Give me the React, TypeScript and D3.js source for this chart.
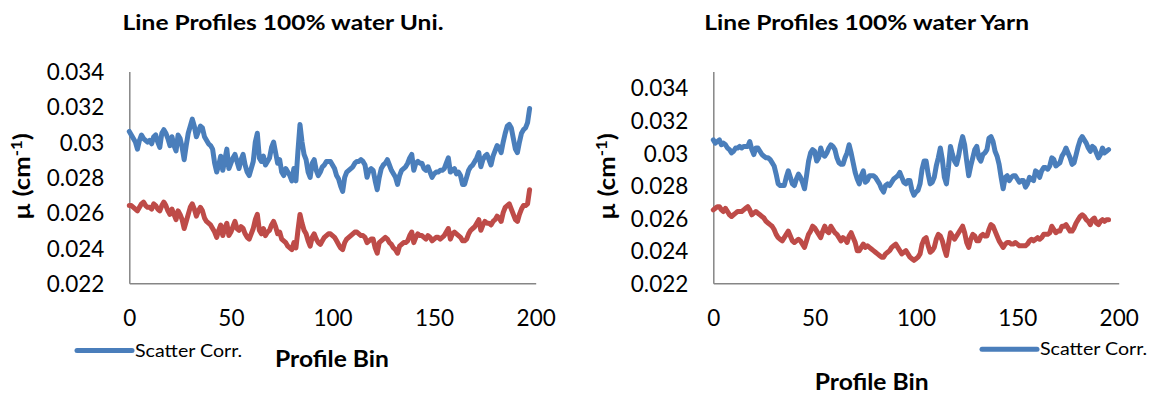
import * as d3 from 'd3'
import { useEffect, useRef } from 'react'

// profile bins are the array index (0, 1, 2, ...)
const uniScatter = [
  0.0306, 0.0304, 0.0302, 0.03, 0.0296, 0.0301, 0.0304, 0.0302, 0.0301, 0.03,
  0.0301, 0.0299, 0.0303, 0.0304, 0.03, 0.0297, 0.0305, 0.0307, 0.0305, 0.0302,
  0.0298, 0.0303, 0.0298, 0.0295, 0.0304, 0.0302, 0.0297, 0.029, 0.0298, 0.0305,
  0.0309, 0.0313, 0.0309, 0.0303, 0.0306, 0.0309, 0.0308, 0.0303, 0.0301, 0.0299,
  0.0298, 0.0296, 0.0288, 0.0283, 0.0287, 0.0292, 0.0284, 0.029, 0.0296, 0.0285,
  0.0288, 0.0291, 0.0293, 0.0289, 0.0285, 0.029, 0.0293, 0.0287, 0.0283, 0.0281,
  0.0285, 0.0289, 0.03, 0.0305, 0.0291, 0.0289, 0.0292, 0.0287, 0.0289, 0.0291,
  0.0297, 0.03, 0.0294, 0.0288, 0.029, 0.0283, 0.0281, 0.0285, 0.0283, 0.0281,
  0.0278, 0.0285, 0.0278, 0.0295, 0.031, 0.03, 0.0293, 0.029, 0.0283, 0.028,
  0.0288, 0.029, 0.0284, 0.0281, 0.0283, 0.0286, 0.0287, 0.0289, 0.0289, 0.0289,
  0.0287, 0.0285, 0.0281, 0.0279, 0.0275, 0.0272, 0.028, 0.0283, 0.0284, 0.0285,
  0.0286, 0.0288, 0.0289, 0.0289, 0.029, 0.0289, 0.0287, 0.028, 0.0284, 0.0285,
  0.0284, 0.0278, 0.0273, 0.028, 0.0285, 0.0287, 0.0288, 0.029, 0.0287, 0.0284,
  0.0282, 0.028, 0.0276, 0.0281, 0.0284, 0.0285, 0.0286, 0.0288, 0.0291, 0.0293,
  0.0284, 0.0288, 0.0289, 0.0288, 0.0288, 0.0285, 0.0284, 0.0286, 0.0283, 0.028,
  0.0282, 0.0283, 0.0283, 0.0284, 0.0284, 0.0285, 0.0288, 0.0291, 0.0283, 0.0284,
  0.0285, 0.0282, 0.0283, 0.0281, 0.0276, 0.0276, 0.028, 0.0284, 0.0286, 0.0287,
  0.0289, 0.0291, 0.0294, 0.0286, 0.029, 0.0292, 0.0293, 0.029, 0.0287, 0.0292,
  0.0295, 0.0298, 0.0297, 0.0294, 0.03, 0.0305, 0.0309, 0.031, 0.0308, 0.0302,
  0.0296, 0.0294, 0.03, 0.0305, 0.0307, 0.0308, 0.0311, 0.0319,
]

const uniOther = [
  0.0264, 0.0264, 0.0263, 0.0262, 0.0261, 0.0263, 0.0265, 0.0266, 0.0264, 0.0263,
  0.0263, 0.0262, 0.0265, 0.0264, 0.0262, 0.0261, 0.0264, 0.0266, 0.0264, 0.0261,
  0.0259, 0.0262, 0.0259, 0.0256, 0.0261, 0.0259, 0.0256, 0.0251, 0.0255, 0.0259,
  0.0263, 0.0265, 0.0262, 0.0258, 0.0261, 0.0263, 0.0261, 0.0257, 0.0255, 0.0254,
  0.0253, 0.0251, 0.0249, 0.0246, 0.025, 0.0253, 0.0247, 0.0251, 0.0254, 0.0247,
  0.0249, 0.0252, 0.0255, 0.0251, 0.025, 0.0252, 0.0251, 0.0248, 0.0246, 0.0245,
  0.0248, 0.0251, 0.0256, 0.0259, 0.025, 0.0248, 0.0251, 0.0247, 0.0249, 0.025,
  0.0253, 0.0255, 0.0252, 0.0248, 0.0249, 0.0245, 0.0244, 0.0243, 0.0241, 0.024,
  0.0239, 0.0243, 0.024, 0.025, 0.0259, 0.0254, 0.025, 0.0248, 0.0244, 0.0241,
  0.0246, 0.0248, 0.0245, 0.0243, 0.0242, 0.0244, 0.0246, 0.0247, 0.0248, 0.0248,
  0.0247, 0.0246, 0.0244, 0.0242, 0.024, 0.0239, 0.0243, 0.0245, 0.0246, 0.0247,
  0.0248, 0.0249, 0.0249, 0.0248, 0.0247, 0.0247, 0.0246, 0.0243, 0.0244, 0.0245,
  0.0245, 0.024, 0.0237, 0.0243, 0.0244, 0.0245, 0.0246, 0.0245, 0.0243, 0.0242,
  0.024, 0.0239, 0.0237, 0.0241, 0.0242, 0.0243, 0.0243, 0.0244, 0.0247, 0.0249,
  0.0243, 0.0246, 0.0248, 0.0247, 0.0247, 0.0246, 0.0245, 0.0247, 0.0246, 0.0244,
  0.0245, 0.0246, 0.0246, 0.0245, 0.0246, 0.0247, 0.0249, 0.0251, 0.0245, 0.0248,
  0.0249, 0.0248, 0.0247, 0.0246, 0.0244, 0.0244, 0.0245, 0.0248, 0.025, 0.0251,
  0.0252, 0.0254, 0.0256, 0.025, 0.0253, 0.0255, 0.0254, 0.0254, 0.0253, 0.0255,
  0.0256, 0.0258, 0.0257, 0.0255, 0.026, 0.0263, 0.0264, 0.0265, 0.0262, 0.0259,
  0.0256, 0.0255, 0.0259, 0.0262, 0.0264, 0.0264, 0.0265, 0.0273,
]

const yarnScatter = [
  0.0308, 0.0306, 0.0307, 0.0308, 0.0305, 0.0306, 0.0305, 0.0303, 0.0302, 0.03,
  0.0301, 0.0303, 0.0303, 0.0304, 0.0303, 0.0304, 0.0304, 0.0304, 0.0307, 0.0302,
  0.0299, 0.0303, 0.0303, 0.0301, 0.0299, 0.0298, 0.0297, 0.0297, 0.0296, 0.0294,
  0.0292, 0.0287, 0.0281, 0.028, 0.028, 0.028, 0.0285, 0.0289, 0.0285, 0.0281,
  0.028, 0.0284, 0.0287, 0.0285, 0.0282, 0.0278, 0.0286, 0.0295, 0.03, 0.0302,
  0.0301, 0.0295, 0.0297, 0.0303, 0.0299, 0.0298, 0.03, 0.0303, 0.0305, 0.0304,
  0.0302, 0.0297, 0.0294, 0.0293, 0.0293, 0.0297, 0.03, 0.0305, 0.03, 0.0294,
  0.0288, 0.0284, 0.0281, 0.0286, 0.0289, 0.0282, 0.0283, 0.0286, 0.0286, 0.0286,
  0.0285, 0.0283, 0.0281, 0.0278, 0.0276, 0.028, 0.0281, 0.028, 0.0282, 0.0284,
  0.0285, 0.0286, 0.0288, 0.0285, 0.0282, 0.0281, 0.0283, 0.0283, 0.0277, 0.0274,
  0.0276, 0.0277, 0.0281, 0.029, 0.0295, 0.0295, 0.0287, 0.0281, 0.0282, 0.0285,
  0.0292, 0.0297, 0.0303, 0.0296, 0.0285, 0.0281, 0.0291, 0.0304, 0.0299, 0.0295,
  0.0293, 0.0298, 0.0305, 0.031, 0.0305, 0.0295, 0.0286, 0.0292, 0.0297, 0.0302,
  0.0304, 0.0297, 0.0295, 0.0299, 0.03, 0.0302, 0.0309, 0.031, 0.0307, 0.0301,
  0.0298, 0.0293, 0.0285, 0.0278, 0.0285, 0.0286, 0.0283, 0.0285, 0.0286, 0.0286,
  0.0284, 0.0282, 0.0283, 0.0283, 0.0279, 0.0281, 0.0285, 0.0284, 0.0283, 0.0289,
  0.0288, 0.0285, 0.0289, 0.0291, 0.0291, 0.029, 0.0292, 0.0297, 0.0296, 0.0292,
  0.0293, 0.0294, 0.0298, 0.03, 0.0303, 0.03, 0.0297, 0.0293, 0.0294, 0.0299,
  0.0304, 0.0308, 0.031, 0.0308, 0.0306, 0.0303, 0.0301, 0.0304, 0.0303, 0.03,
  0.0297, 0.0299, 0.0303, 0.03, 0.0301, 0.0302,
]

const yarnOther = [
  0.0265, 0.0266, 0.0267, 0.0267, 0.0265, 0.0264, 0.0266, 0.0264, 0.0262, 0.0261,
  0.0262, 0.0263, 0.0264, 0.0264, 0.0264, 0.0265, 0.0266, 0.0267, 0.0265, 0.0262,
  0.0263, 0.0264, 0.0263, 0.0262, 0.0261, 0.026, 0.0258, 0.0257, 0.0256, 0.0255,
  0.0253, 0.025, 0.0248, 0.0247, 0.0246, 0.0248, 0.025, 0.0252, 0.0249, 0.0246,
  0.0245, 0.0246, 0.0247, 0.0246, 0.0244, 0.0242, 0.0246, 0.025, 0.0252, 0.0255,
  0.0254, 0.0252, 0.025, 0.0248, 0.0252, 0.0255, 0.0252, 0.0251, 0.0255, 0.0253,
  0.0251, 0.025, 0.0248, 0.0246, 0.0248, 0.0247, 0.0245, 0.0249, 0.0251, 0.0248,
  0.0245, 0.024, 0.024, 0.0242, 0.0244, 0.0242, 0.0243, 0.0242, 0.0241, 0.024,
  0.0239, 0.0238, 0.0237, 0.0236, 0.0236, 0.0238, 0.0239, 0.024, 0.0242, 0.0243,
  0.0244, 0.0242, 0.024, 0.0238, 0.0239, 0.024, 0.0238, 0.0236, 0.0235, 0.0234,
  0.0235, 0.0236, 0.0238, 0.0244, 0.0247, 0.0248, 0.0243, 0.0239, 0.024, 0.0242,
  0.0247, 0.025, 0.0249, 0.0246, 0.0241, 0.0237, 0.0244, 0.0251, 0.0249, 0.0247,
  0.0249, 0.0251, 0.0253, 0.0255, 0.0251, 0.0245, 0.0242, 0.0247, 0.025, 0.0249,
  0.0246, 0.0246, 0.0249, 0.025, 0.0249, 0.0249, 0.0253, 0.0256, 0.0255, 0.0252,
  0.0249, 0.0246, 0.0244, 0.0242, 0.0244, 0.0245, 0.0245, 0.0244, 0.0244, 0.0245,
  0.0244, 0.0243, 0.0243, 0.0243, 0.0243, 0.0244, 0.0246, 0.0247, 0.0246, 0.0247,
  0.0248, 0.0247, 0.0248, 0.025, 0.025, 0.025, 0.0251, 0.0255, 0.0253, 0.0251,
  0.0252, 0.0252, 0.0255, 0.0255, 0.0256, 0.0254, 0.0252, 0.0252, 0.0254, 0.0257,
  0.0259, 0.0261, 0.0262, 0.0261, 0.0259, 0.0258, 0.0256, 0.0259, 0.026, 0.0257,
  0.0256, 0.0258, 0.0259, 0.0258, 0.0259, 0.0259,
]

const xTicks = [0, 50, 100, 150, 200]
const yTicks = [0.022, 0.024, 0.026, 0.028, 0.03, 0.032, 0.034]
const legendLabel = 'Scatter Corr.'
const xLabel = 'Profile Bin'

const FONT = 'Lato, Carlito, Calibri, sans-serif'
const BLUE = '#4a7ebb'
const RED = '#be4b48'
const AXIS = '#868686'
// the source chart's text is a little wider than Lato, stretch it a bit
const STRETCH = 1.12

type PanelProps = {
  title: string
  scatter: number[]
  other: number[]
  yMax: number
  left: number
  right: number
  titleX: number
  yTitleX: number
  xLabelPos: [number, number]
  legendPos: [number, number]
}

function Panel({
  title,
  scatter,
  other,
  yMax,
  left,
  right,
  titleX,
  yTitleX,
  xLabelPos,
  legendPos,
}: PanelProps) {
  const bottom = 283.2
  const top = 71.5

  const x = d3.scaleLinear([0, 200], [left, right])
  const y = d3.scaleLinear([0.022, yMax], [bottom, top])

  const line = d3.line<number>()
  line.x((_, i) => x(i))
  line.y((d) => y(d))

  const gx = useRef<SVGGElement>(null)
  const gy = useRef<SVGGElement>(null)

  useEffect(() => {
    const xAxis = d3
      .axisBottom(x)
      .tickValues(xTicks)
      .tickSize(0)
      .tickSizeOuter(0)
      .tickPadding(27)
      .tickFormat((d) => String(d))
    d3.select(gx.current as SVGGElement)
      .call(xAxis)
      .call((g) => {
        g.attr('font-family', FONT).attr('font-size', 22.5)
        g.select('.domain').attr('stroke', AXIS).attr('stroke-width', 1.5)
        g.selectAll('text').attr('fill', '#000')
      })

    const yAxis = d3
      .axisLeft(y)
      .tickValues(yTicks)
      .tickSize(0)
      .tickSizeOuter(0)
      .tickPadding(25)
      .tickFormat((d) => String(+(+d).toFixed(3)))
    d3.select(gy.current as SVGGElement)
      .call(yAxis)
      .call((g) => {
        g.attr('font-family', FONT).attr('font-size', 22.5)
        g.select('.domain').attr('stroke', AXIS).attr('stroke-width', 1.5)
        g.selectAll('text').attr('fill', '#000').attr('dy', '0.36em')
      })
  })

  return (
    <g fontFamily={FONT}>
      <text
        transform={`translate(${titleX},30) scale(1.17,1)`}
        textAnchor="middle"
        fontWeight="bold"
        fontSize={21}
      >
        {title}
      </text>
      <g ref={gx} transform={`translate(0,${bottom})`} />
      <g ref={gy} transform={`translate(${left},0)`} />
      <text
        transform={`translate(${yTitleX},176.5) rotate(-90) scale(${STRETCH},1)`}
        textAnchor="middle"
        fontWeight="bold"
        fontSize={23}
        dy="0.35em"
      >
        µ (cm<tspan dy={-8} fontSize={15}>-1</tspan>
        <tspan dy={8}>)</tspan>
      </text>
      <path
        d={line(other) as string}
        fill="none"
        stroke={RED}
        strokeWidth={5}
        strokeLinejoin="round"
        strokeLinecap="round"
      />
      <path
        d={line(scatter) as string}
        fill="none"
        stroke={BLUE}
        strokeWidth={5}
        strokeLinejoin="round"
        strokeLinecap="round"
      />
      <text
        transform={`translate(${xLabelPos[0]},${xLabelPos[1]}) scale(${STRETCH},1)`}
        textAnchor="middle"
        fontWeight="bold"
        fontSize={22}
      >
        {xLabel}
      </text>
      <line
        x1={legendPos[0]}
        x2={legendPos[0] + 55}
        y1={legendPos[1]}
        y2={legendPos[1]}
        stroke={BLUE}
        strokeWidth={5}
        strokeLinecap="round"
      />
      <text
        transform={`translate(${legendPos[0] + 58},${legendPos[1] + 6}) scale(1.09,1)`}
        fontSize={18}
      >
        {legendLabel}
      </text>
    </g>
  )
}

export default function App() {
  return (
    <svg
      width={1157}
      height={394}
      style={{ position: 'absolute', left: 0, top: 0, background: '#fff' }}
    >
      <Panel
        title="Line Profiles 100% water Uni."
        scatter={uniScatter}
        other={uniOther}
        yMax={0.034}
        left={129.3}
        right={535.7}
        titleX={283}
        yTitleX={22}
        xLabelPos={[332, 366.7]}
        legendPos={[77, 350.5]}
      />
      <Panel
        title="Line Profiles 100% water Yarn"
        scatter={yarnScatter}
        other={yarnOther}
        yMax={0.035}
        left={713.3}
        right={1118.7}
        titleX={866.7}
        yTitleX={607}
        xLabelPos={[871.7, 390]}
        legendPos={[982, 349.3]}
      />
    </svg>
  )
}
